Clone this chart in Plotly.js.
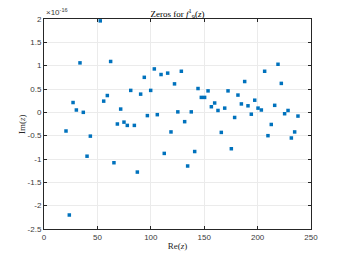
<!DOCTYPE html>
<html>
<head>
<meta charset="utf-8">
<script src="https://cdn.plot.ly/plotly-3.0.1.min.js"></script>
<style>html,body{margin:0;padding:0;background:#fff;}#chart{width:343px;height:258px;}</style>
</head>
<body>
<div id="chart"></div>
<script>
// Real parts of the zeros
const reZ = [20.6,23.7,27.2,30.3,33.7,36.8,40.3,43.4,52.7,55.9,59.3,62.4,65.5,68.7,71.8,74.9,78.0,81.2,84.6,87.4,
  90.5,93.9,96.8,99.9,103.3,106.1,109.6,112.6,115.8,118.9,122.2,125.3,128.6,131.7,134.5,137.9,141.1,144.2,147.3,150.4,
  153.6,156.7,159.8,162.9,166.0,169.2,172.3,175.4,178.5,181.6,184.8,187.9,191.0,194.1,197.3,200.4,203.5,206.6,209.7,212.8,
  216.0,219.1,222.2,225.3,228.5,231.6,234.7,237.8];
// Imaginary parts, in units of 1e-16
const imZ = [-0.40,-2.20,0.21,0.05,1.06,0.00,-0.94,-0.51,1.96,0.24,0.36,1.09,-1.08,-0.25,0.07,-0.21,-0.28,0.47,-0.28,-1.28,
  0.39,0.75,-0.07,0.47,0.93,-0.05,0.81,-0.88,0.84,-0.42,0.61,0.01,0.88,-0.20,-1.15,0.01,-0.84,0.51,0.32,0.32,
  0.46,0.12,0.20,0.04,-0.43,0.09,0.46,-0.78,-0.11,0.37,0.18,0.66,0.14,-0.04,0.26,0.09,0.05,0.88,-0.50,-0.26,
  0.15,1.03,0.62,-0.03,0.04,-0.55,-0.42,-0.08];
const xTicks = [0,50,100,150,200,250];
const yTicks = [-2.5,-2,-1.5,-1,-0.5,0,0.5,1,1.5,2];
const yTickLabels = ['-2.5','-2','-1.5','-1','-0.5','0','0.5','1','1.5','2'];

const axisCommon = {
  showline: true, linecolor: '#262626', linewidth: 1, mirror: 'ticks',
  ticks: 'inside', ticklen: 3, tickcolor: '#262626', tickwidth: 1,
  showgrid: true, gridcolor: '#ebebeb', gridwidth: 1, zeroline: false,
  tickfont: {family: 'Liberation Sans, Arial, sans-serif', size: 8, color: '#3a3a3a'}
};

const trace = {
  x: reZ, y: imZ, type: 'scatter', mode: 'markers',
  marker: {color: '#0072BD', size: 3.5, symbol: 'square', line: {width: 0}},
  hoverinfo: 'skip'
};

const serif = 'Liberation Serif, DejaVu Serif, serif';
const layout = {
  width: 343, height: 258,
  margin: {l: 44, r: 32, t: 19, b: 29},
  paper_bgcolor: '#ffffff', plot_bgcolor: '#ffffff',
  showlegend: false,
  title: {text: 'Zeros for <i>f</i><sup>1</sup><sub>9</sub>(<i>z</i>)',
    font: {family: serif, size: 9, color: '#000'},
    x: 0.5, xref: 'paper', xanchor: 'center', y: 1, yref: 'paper', yanchor: 'bottom', pad: {b: 2}},
  xaxis: Object.assign({}, axisCommon, {
    range: [0, 250], tickvals: xTicks, ticktext: xTicks.map(String),
    title: {text: 'Re(<i>z</i>)', font: {family: serif, size: 9, color: '#262626'}, standoff: 2}
  }),
  yaxis: Object.assign({}, axisCommon, {
    range: [-2.5, 2], tickvals: yTicks, ticktext: yTickLabels
  }),
  annotations: [{
    text: '×10<sup>-16</sup>', xref: 'paper', yref: 'paper', x: 0, y: 1,
    xanchor: 'left', yanchor: 'bottom', showarrow: false,
    font: {family: 'Liberation Sans, Arial, sans-serif', size: 8, color: '#3a3a3a'}
  }, {
    text: 'Im(<i>z</i>)', xref: 'paper', yref: 'paper', x: -0.082, y: 0.5,
    xanchor: 'center', yanchor: 'middle', textangle: -90, showarrow: false,
    font: {family: serif, size: 9, color: '#262626'}
  }]
};

Plotly.newPlot('chart', [trace], layout, {staticPlot: true, displayModeBar: false});
</script>
</body>
</html>
